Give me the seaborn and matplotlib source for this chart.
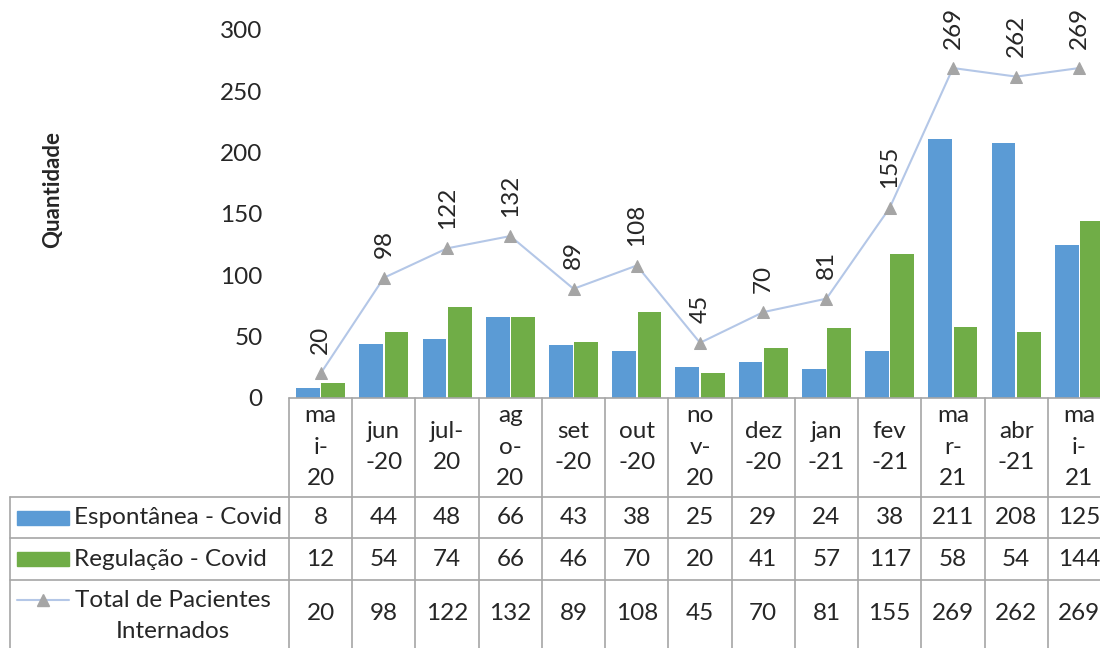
import numpy as np
import pandas as pd
import matplotlib
matplotlib.use("Agg")
import matplotlib.pyplot as plt
import matplotlib.transforms as mtransforms
from matplotlib.lines import Line2D
from matplotlib.patches import Rectangle
import seaborn as sns

# dados
meses = ["mai-20", "jun-20", "jul-20", "ago-20", "set-20", "out-20", "nov-20",
         "dez-20", "jan-21", "fev-21", "mar-21", "abr-21", "mai-21"]
rotulos = ["ma\ni-\n20", "jun\n-20", "jul-\n20", "ag\no-\n20", "set\n-20", "out\n-20",
           "no\nv-\n20", "dez\n-20", "jan\n-21", "fev\n-21", "ma\nr-\n21", "abr\n-21",
           "ma\ni-\n21"]
espontanea = [8, 44, 48, 66, 43, 38, 25, 29, 24, 38, 211, 208, 125]
regulacao = [12, 54, 74, 66, 46, 70, 20, 41, 57, 117, 58, 54, 144]
total = [20, 98, 122, 132, 89, 108, 45, 70, 81, 155, 269, 262, 269]
series = ["Espontânea - Covid", "Regulação - Covid"]
serie_total = "Total de Pacientes\nInternados"

AZUL = "#5B9BD5"
VERDE = "#70AD47"
LINHA = "#B4C7E7"
CINZA = "#A5A5A5"
BORDA = "#A6A6A6"
FS = 17.5

sns.set_style("white")
plt.rcParams["font.family"] = ["Lato", "DejaVu Sans"]

W, H = 1100, 648
fx = lambda px: px / W
fy = lambda py: 1 - py / H

fig = plt.figure(figsize=(11, 6.48), dpi=100)
ax = fig.add_axes([fx(289), fy(398), (1111 - 289) / W, (398 - 30) / H])

df = pd.DataFrame({
    "mes": meses * 2,
    "serie": [s for s in series for _ in meses],
    "valor": espontanea + regulacao,
})
sns.barplot(data=df, x="mes", y="valor", hue="serie", order=meses, hue_order=series,
            palette=[AZUL, VERDE], width=0.8, gap=0.06, saturation=1,
            edgecolor="none", legend=False, ax=ax)

pos = np.arange(len(meses))
sns.lineplot(x=pos, y=total, color=LINHA, linewidth=1.5, marker="^", markersize=9,
             markerfacecolor=CINZA, markeredgecolor=CINZA, ax=ax, zorder=3)
for i, v in enumerate(total):
    ax.annotate(str(v), (i, v), xytext=(0, 14), textcoords="offset points",
                rotation=90, ha="center", va="bottom", fontsize=FS)

ax.set_xlim(-0.5, len(meses) - 0.5)
ax.set_ylim(0, 300)
ax.set_yticks(range(0, 301, 50))
ax.set_xticks([])
ax.set_xlabel("")
ax.set_ylabel("")
for s in ax.spines.values():
    s.set_visible(False)
ax.tick_params(axis="y", length=0, pad=19, labelsize=FS)

fig.text(fx(53), fy(190), "Quantidade", rotation=90, fontweight="bold",
         fontsize=16, ha="center", va="center")

# tabela de dados
trans = mtransforms.blended_transform_factory(ax.transData, fig.transFigure)
for k in range(len(meses) + 1):
    fig.add_artist(Line2D([k - 0.5, k - 0.5], [fy(398), fy(660)], transform=trans,
                          color=BORDA, lw=1.2))
fig.add_artist(Line2D([fx(289), fx(1120)], [fy(398), fy(398)],
                      transform=fig.transFigure, color=BORDA, lw=1.2))
for yy in [497, 538, 580]:
    fig.add_artist(Line2D([fx(10), fx(1120)], [fy(yy), fy(yy)],
                          transform=fig.transFigure, color=BORDA, lw=1.2))
fig.add_artist(Line2D([fx(10), fx(10)], [fy(497), fy(660)],
                      transform=fig.transFigure, color=BORDA, lw=1.2))

for i, r in enumerate(rotulos):
    ax.text(i, fy(447), r, transform=trans, ha="center", va="center",
            linespacing=1.6, fontsize=FS)

linhas = [(espontanea, 518), (regulacao, 559), (total, 614)]
for vals, yc in linhas:
    for i, v in enumerate(vals):
        ax.text(i, fy(yc), str(v), transform=trans, ha="center", va="center",
                fontsize=FS)

for nome, cor, yc in [(series[0], AZUL, 518), (series[1], VERDE, 559)]:
    fig.add_artist(Rectangle((fx(17), fy(yc + 7)), fx(69) - fx(17), 14 / H,
                             transform=fig.transFigure, color=cor))
    fig.text(fx(74), fy(yc), nome, ha="left", va="center", fontsize=FS)

fig.add_artist(Line2D([fx(17), fx(69)], [fy(600), fy(600)], transform=fig.transFigure,
                      color=LINHA, lw=1.5))
fig.add_artist(Line2D([fx(43)], [fy(600)], transform=fig.transFigure, marker="^",
                      markersize=9, color=CINZA, lw=0))
fig.text(fx(173), fy(616), serie_total, ha="center", va="center", fontsize=FS,
         multialignment="center", linespacing=1.55)

fig.savefig("out.png", dpi=100)
